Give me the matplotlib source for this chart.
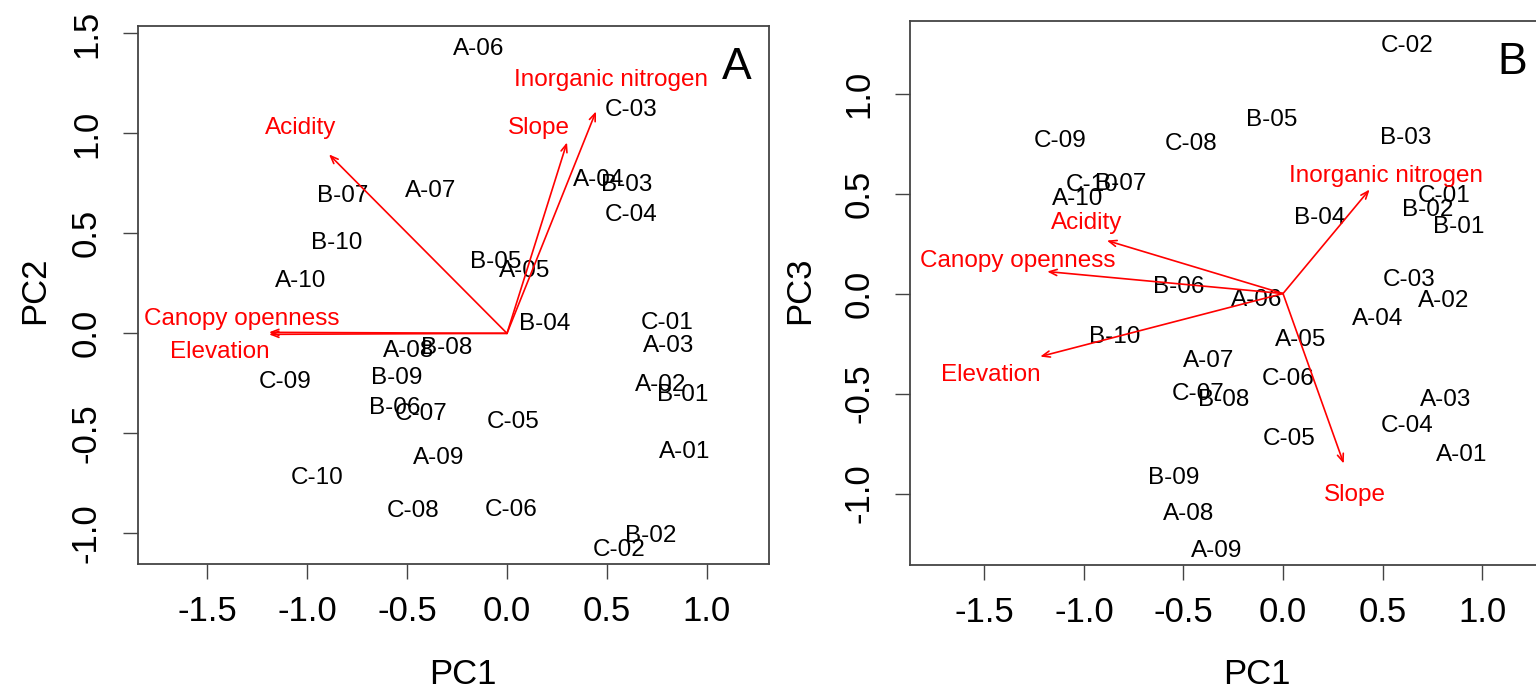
import matplotlib
matplotlib.use("Agg")
import matplotlib.pyplot as plt

plt.rcParams['font.family'] = ['Liberation Sans', 'DejaVu Sans']

# ---------------- Panel A (PC1 vs PC2) ----------------
sites_a = ["A-06", "C-03", "A-04", "B-03", "C-04", "A-07", "B-07", "B-10", "A-10",
           "B-05", "A-05", "B-04", "C-01", "A-03", "A-02", "B-01", "A-08", "B-08",
           "C-09", "B-09", "B-06", "C-07", "C-05", "A-09", "A-01", "C-10", "C-08",
           "C-06", "B-02", "C-02"]
pc1_a = [-0.14, 0.62, 0.46, 0.60, 0.62, -0.38, -0.82, -0.85, -1.03,
         -0.055, 0.09, 0.186, 0.80, 0.81, 0.77, 0.88, -0.49, -0.30,
         -1.11, -0.55, -0.56, -0.43, 0.03, -0.34, 0.89, -0.95, -0.47,
         0.02, 0.72, 0.56]
pc2_a = [1.436, 1.13, 0.78, 0.755, 0.605, 0.726, 0.70, 0.465, 0.275,
         0.37, 0.325, 0.06, 0.065, -0.05, -0.245, -0.295, -0.075, -0.06,
         -0.23, -0.21, -0.36, -0.39, -0.43, -0.61, -0.58, -0.71, -0.875,
         -0.87, -1.00, -1.07]

variables = ["Acidity", "Slope", "Inorganic nitrogen", "Canopy openness", "Elevation"]
load_x_a = [-0.89, 0.30, 0.445, -1.19, -1.19]
load_y_a = [0.895, 0.955, 1.11, 0.005, -0.005]
lab_x_a = [-1.03, 0.16, 0.52, -1.325, -1.435]
lab_y_a = [1.04, 1.04, 1.28, 0.085, -0.08]

# ---------------- Panel B (PC1 vs PC3) ----------------
sites_b = ["C-02", "B-05", "C-09", "C-08", "B-03", "C-10", "B-07", "A-10", "B-04",
           "C-01", "B-02", "B-01", "C-03", "A-02", "A-04", "B-06", "A-06", "A-05",
           "B-10", "A-07", "C-07", "B-08", "C-06", "A-03", "C-04", "A-01", "C-05",
           "B-09", "A-08", "A-09"]
pc1_b = [0.625, -0.055, -1.12, -0.46, 0.615, -0.96, -0.815, -1.03, 0.185,
         0.81, 0.725, 0.885, 0.635, 0.805, 0.475, -0.525, -0.135, 0.09,
         -0.845, -0.375, -0.425, -0.30, 0.025, 0.815, 0.625, 0.895, 0.03,
         -0.55, -0.475, -0.335]
pc3_b = [1.25, 0.88, 0.775, 0.76, 0.79, 0.555, 0.56, 0.485, 0.39,
         0.50, 0.43, 0.345, 0.08, -0.025, -0.115, 0.045, -0.02, -0.22,
         -0.205, -0.325, -0.49, -0.52, -0.415, -0.52, -0.65, -0.795, -0.715,
         -0.91, -1.09, -1.275]

load_x_b = [-0.885, 0.305, 0.435, -1.185, -1.22]
load_y_b = [0.265, -0.85, 0.52, 0.11, -0.315]
lab_x_b = [-0.985, 0.36, 0.515, -1.335, -1.47]
lab_y_b = [0.365, -0.995, 0.60, 0.175, -0.395]

ticks_x = [-1.5, -1.0, -0.5, 0.0, 0.5, 1.0]
ticks_y_a = [-1.0, -0.5, 0.0, 0.5, 1.0, 1.5]
ticks_y_b = [-1.0, -0.5, 0.0, 0.5, 1.0]

W, H = 1536, 695
fig = plt.figure(figsize=(W / 100, H / 100), dpi=100)

frame_col = '#444444'
tick_fs = 25
pt_fs = 17.5
var_fs = 17.5


def setup(ax, xlim, ylim, yticks):
    ax.set_xlim(*xlim)
    ax.set_ylim(*ylim)
    ax.set_xticks(ticks_x)
    ax.set_xticklabels([f"{t:.1f}" for t in ticks_x])
    ax.set_yticks(yticks)
    ax.set_yticklabels([f"{t:.1f}" for t in yticks], rotation=90, va='center')
    ax.tick_params(axis='both', direction='out', length=11, width=1.0,
                   color=frame_col, labelsize=tick_fs)
    ax.tick_params(axis='x', pad=11)
    ax.tick_params(axis='y', pad=14)
    for sp in ax.spines.values():
        sp.set_color(frame_col)
        sp.set_linewidth(1.3)


def draw(ax, names, xs, ys, lx, ly, labx, laby):
    for n, x, y in zip(names, xs, ys):
        ax.text(x, y, n, ha='center', va='center_baseline', fontsize=pt_fs, color='black')
    for v, x, y, tx, ty in zip(variables, lx, ly, labx, laby):
        ax.annotate('', xy=(x, y), xytext=(0, 0),
                    arrowprops=dict(arrowstyle='->,head_length=0.55,head_width=0.22',
                                    color='#FF0000', lw=1.2, shrinkA=0, shrinkB=0))
        ax.text(tx, ty, v, ha='center', va='center_baseline', fontsize=var_fs, color='#FF0000')


# Panel A
axA = fig.add_axes([137.7 / W, 1 - 564.3 / H, (769 - 137.7) / W, (564.3 - 26) / H])
setup(axA, (-1.8465, 1.31), (-1.155, 1.537), ticks_y_a)
draw(axA, sites_a, pc1_a, pc2_a, load_x_a, load_y_a, lab_x_a, lab_y_a)
axA.text(0.949, 0.922, "A", transform=axA.transAxes, fontsize=32,
         ha='center', va='center')
fig.text(463 / W, 1 - 675 / H, "PC1", fontsize=25, ha='center', va='center')
fig.text(35 / W, 1 - 290 / H, "PC2", fontsize=25, ha='center', va='center', rotation=90)

# Panel B
axB = fig.add_axes([910 / W, 1 - 565 / H, (1540 - 910) / W, (565 - 20.7) / H])
setup(axB, (-1.874, 1.291), (-1.357, 1.364), ticks_y_b)
draw(axB, sites_b, pc1_b, pc3_b, load_x_b, load_y_b, lab_x_b, lab_y_b)
axB.text(0.956, 0.924, "B", transform=axB.transAxes, fontsize=32,
         ha='center', va='center')
fig.text(1257 / W, 1 - 675 / H, "PC1", fontsize=25, ha='center', va='center')
fig.text(800 / W, 1 - 290 / H, "PC3", fontsize=25, ha='center', va='center', rotation=90)

fig.savefig("out.png", dpi=100)
